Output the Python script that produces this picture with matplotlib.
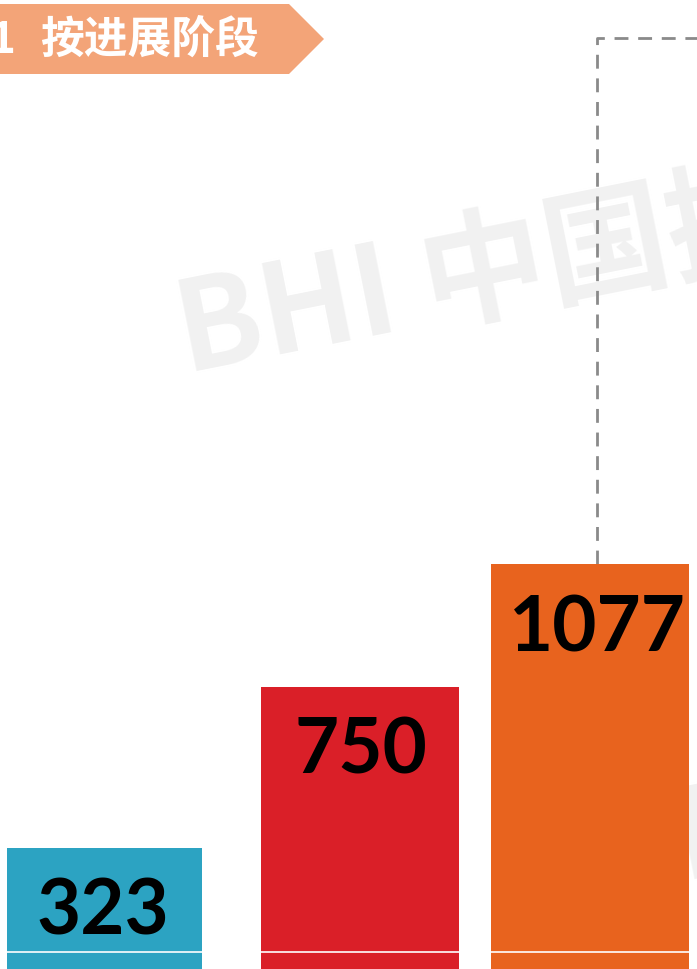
import matplotlib
matplotlib.use("Agg")
import matplotlib.pyplot as plt
from matplotlib.patches import Polygon

# ---- data ----
categories = ["阶段一", "阶段二", "阶段三"]
values = [323, 750, 1077]
colors = ["#2CA3C2", "#DA1F28", "#E8631E"]
section_no = "1"
section_title = "按进展阶段"
watermark = "BHI 中国拟在建项目网"

W, H = 697, 969
fig = plt.figure(figsize=(W / 100, H / 100), dpi=100)
fig.patch.set_facecolor("white")

# pixel overlay (origin top-left) for background decorations
pax = fig.add_axes([0, 0, 1, 1], zorder=0)
pax.set_xlim(0, W)
pax.set_ylim(H, 0)
pax.axis("off")

# data axes
ax = fig.add_axes([0, 0, 1, 1], zorder=1)
ax.patch.set_alpha(0)
px_per_unit = 0.376
ax.set_xlim(0, W)
ax.set_ylim(0, H / px_per_unit)
ax.axis("off")

# watermarks (behind bars)
for (wx, wy) in [(186, 374), (684, 882)]:
    pax.text(wx, wy, watermark, rotation=11.3, rotation_mode="anchor",
             ha="left", va="baseline", fontsize=90, fontweight="bold",
             color="#F1F1F1", family=["Noto Sans CJK SC", "DejaVu Sans"], zorder=0)

# bars
centers = [104.5, 360, 590]
widths = [195, 198, 198]
bars = ax.bar(centers, values, width=widths, color=colors, zorder=2)

# thin white line near bottom
ax.axhline(17 / px_per_unit, color="white", lw=1.2, zorder=3)

# value labels
label_x = [103, 361, 597]
for x, v in zip(label_x, values):
    ax.text(x, v - 87 / px_per_unit, f"{v}", ha="center", va="baseline",
            fontsize=55, fontweight="bold", family="Lato", color="black", zorder=4)

# dashed connector from top of third bar
top_y = (H - 38) / px_per_unit
dash_x = 597
ax.plot([dash_x, dash_x, W + 5], [values[2], top_y, top_y], color="#8A8A8A",
        lw=2, ls=(0, (5, 3.5)), zorder=1.5, clip_on=False)

# banner
fig_text_kw = dict(color="white", fontweight="bold", va="center",
                   family=["Noto Sans CJK SC", "DejaVu Sans"], fontsize=31.5)
ax2 = fig.add_axes([0, 0, 1, 1], zorder=2)
ax2.patch.set_alpha(0)
ax2.set_xlim(0, W)
ax2.set_ylim(H, 0)
ax2.axis("off")
ax2.add_patch(Polygon([(-5, 4), (289, 4), (324, 39), (289, 74), (-5, 74)],
                      closed=True, facecolor="#F3A478", edgecolor="none"))
ax2.text(15, 40, section_no, ha="right", **fig_text_kw)
ax2.text(40, 40, section_title, ha="left", **fig_text_kw)

fig.savefig("out.png", dpi=100)
